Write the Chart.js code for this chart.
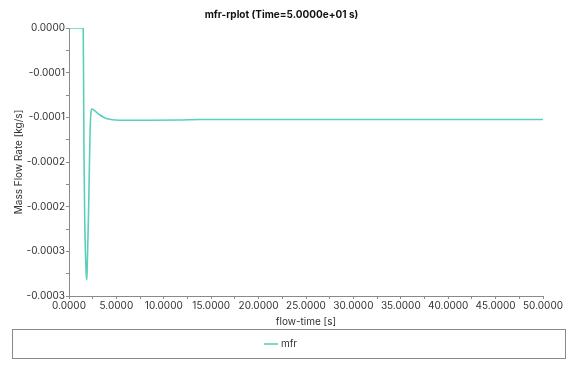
<!DOCTYPE html>
<html>
<head>
<meta charset="utf-8">
<script src="https://cdn.jsdelivr.net/npm/chart.js@4"></script>
<style>
  html, body { margin: 0; padding: 0; background: #ffffff; }
  #wrap { position: relative; width: 578px; height: 374px; }
</style>
</head>
<body>
<div id="wrap"><canvas id="c"></canvas></div>
<script>
// ---- data ----
const flowTime = [0, 1.0, 1.50, 1.58, 1.66, 1.75, 1.82, 1.867, 1.91, 1.97, 2.05, 2.13, 2.215, 2.30, 2.395, 2.53, 2.74, 3.0, 3.27, 3.55, 3.80, 4.32, 4.85, 5.38, 8.54, 11.7, 13.8, 19.1, 30.0, 40.0, 50.0];
const mfr = [0, 0, 0, -0.00014, -0.000215, -0.000258, -0.000276, -0.000282, -0.000272, -0.000248, -0.000212, -0.000168, -0.000120, -0.0000965, -0.0000907, -0.0000912, -0.0000929, -0.0000952, -0.0000974, -0.0000993, -0.0001007, -0.0001022, -0.000103, -0.0001032, -0.0001033, -0.000103, -0.0001025, -0.0001024, -0.0001024, -0.0001024, -0.0001024];

const yTickValues = [0, -0.000025, -0.00005, -0.000075, -0.0001, -0.000125, -0.00015, -0.000175, -0.0002, -0.000225, -0.00025, -0.000275, -0.0003];
const yTickLabels = ['0.0000', '', '-0.0001', '', '-0.0001', '', '-0.0002', '', '-0.0002', '', '-0.0003', '', '-0.0003'];
const xTickValues = [0, 2.5, 5, 7.5, 10, 12.5, 15, 17.5, 20, 22.5, 25, 27.5, 30, 32.5, 35, 37.5, 40, 42.5, 45, 47.5, 50];
const xTickLabels = ['0.0000', '', '5.0000', '', '10.0000', '', '15.0000', '', '20.0000', '', '25.0000', '', '30.0000', '', '35.0000', '', '40.0000', '', '45.0000', '', '50.0000'];

const seriesName = 'mfr';
const chartTitle = 'mfr-rplot (Time=5.0000e+01 s)';
const xTitle = 'flow-time [s]';
const yTitle = 'Mass Flow Rate [kg/s]';

const FONT = 'Inter, "Noto Sans", sans-serif';
const LINE = '#5ccfba';

const points = flowTime.map((t, i) => ({ x: t, y: mfr[i] }));

const legendBox = {
  id: 'legendBox',
  afterDraw(chart) {
    const lg = chart.legend;
    const ctx = chart.ctx;
    ctx.save();
    ctx.strokeStyle = '#8a8a8a';
    ctx.lineWidth = 1;
    ctx.strokeRect(12.5, Math.round(lg.top) + 0.5, 553, Math.round(lg.height) - 1);
    ctx.restore();
  }
};

new Chart(document.getElementById('c'), {
  type: 'line',
  data: {
    datasets: [{
      label: seriesName,
      data: points,
      borderColor: LINE,
      backgroundColor: LINE,
      borderWidth: 1.6,
      pointRadius: 0,
      cubicInterpolationMode: 'monotone',
      fill: false
    }]
  },
  options: {
    responsive: true,
    maintainAspectRatio: false,
    animation: false,
    layout: { padding: { left: 0, right: 15, top: 0, bottom: 15 } },
    plugins: {
      title: {
        display: true,
        text: chartTitle,
        color: '#111',
        font: { family: FONT, size: 10, weight: 'bold' },
        padding: { top: 8.5, bottom: 7.5 }
      },
      legend: {
        display: true,
        position: 'bottom',
        labels: {
          usePointStyle: true,
          pointStyle: 'line',
          boxWidth: 10,
          boxHeight: 10,
          padding: 10,
          color: '#333',
          font: { family: FONT, size: 10 }
        }
      },
      tooltip: { enabled: false }
    },
    scales: {
      x: {
        type: 'linear',
        min: 0,
        max: 50,
        afterBuildTicks: (s) => { s.ticks = xTickValues.map(v => ({ value: v })); },
        afterFit: (s) => { s.height = 33; s.paddingLeft = 0; s.paddingRight = 35; },
        ticks: {
          autoSkip: false,
          maxRotation: 0,
          padding: 1,
          color: '#333',
          font: { family: FONT, size: 10 },
          callback: (v, i) => xTickLabels[i]
        },
        grid: { drawOnChartArea: false, drawTicks: true, tickLength: 3, color: '#8a8a8a' },
        border: { display: true, color: '#8a8a8a', width: 1 },
        title: {
          display: true,
          text: xTitle,
          color: '#333',
          font: { family: FONT, size: 10 },
          padding: { top: 0, bottom: 1.5 }
        }
      },
      y: {
        type: 'linear',
        min: -0.0003,
        max: 0,
        afterBuildTicks: (s) => { s.ticks = yTickValues.slice().reverse().map(v => ({ value: v })); },
        afterFit: (s) => { s.width = 69; },
        ticks: {
          autoSkip: false,
          padding: 1,
          color: '#333',
          font: { family: FONT, size: 10 },
          callback: (v, i) => yTickLabels[yTickLabels.length - 1 - i]
        },
        grid: { drawOnChartArea: false, drawTicks: true, tickLength: 3, color: '#8a8a8a' },
        border: { display: true, color: '#8a8a8a', width: 1 },
        title: {
          display: true,
          text: yTitle,
          color: '#333',
          font: { family: FONT, size: 10 },
          padding: { top: 13, bottom: 0 }
        }
      }
    }
  },
  plugins: [legendBox]
});
</script>
</body>
</html>
